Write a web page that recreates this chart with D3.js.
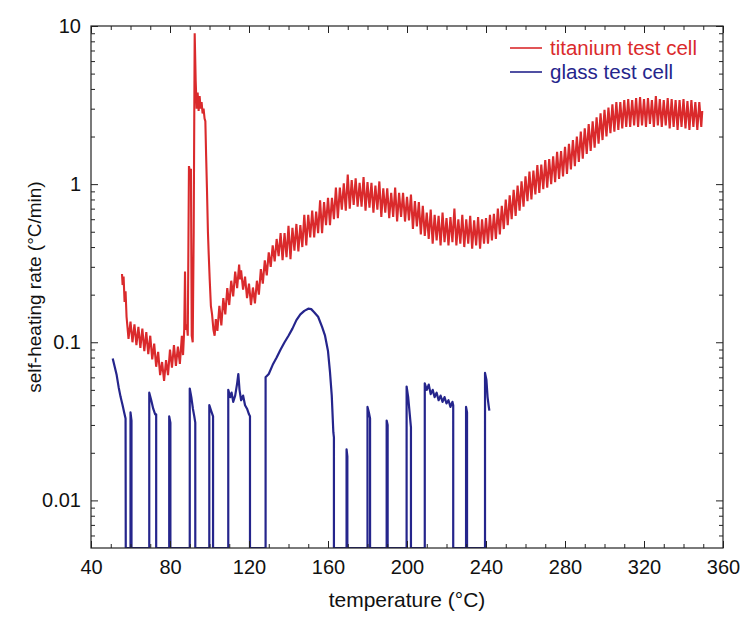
<!DOCTYPE html>
<html><head><meta charset="utf-8">
<script src="https://cdn.jsdelivr.net/npm/d3@7"></script>
<style>
body{margin:0;background:#fff}
svg{display:block}
text{font-family:"Liberation Sans", Arial, Helvetica, sans-serif;fill:#111}
</style>
</head><body>
<svg id="chart" width="750" height="634"></svg>
<script>
// ---- data ----
const xTicks = [40, 80, 120, 160, 200, 240, 280, 320, 360];
const xMinorTicks = [50,60,70,90,100,110,130,140,150,170,180,190,210,220,230,250,260,270,290,300,310,330,340,350];
const yTicks = [0.01, 0.1, 1, 10];
const yTickLabels = ["0.01", "0.1", "1", "10"];
const yMinorTicks = [0.006,0.007,0.008,0.009,0.02,0.03,0.04,0.05,0.06,0.07,0.08,0.09,0.2,0.3,0.4,0.5,0.6,0.7,0.8,0.9,2,3,4,5,6,7,8,9];
const seriesNames = ["titanium test cell", "glass test cell"];
const xTitle = "temperature (°C)";
const yTitle = "self-heating rate (°C/min)";

// titanium test cell: [temperature °C, rate °C/min]
const titanium = [
[55.7,0.27],[56,0.23],[56.5,0.26],[57,0.18],[57.5,0.21],[58,0.145],[59,0.105],[60,0.135],[61,0.1],[62,0.13],
[63,0.096],[64,0.125],[65,0.092],[66,0.122],[67,0.088],[68,0.116],[69,0.084],[70,0.11],[71,0.078],[72,0.098],
[73,0.07],[74,0.087],[75,0.062],[76,0.075],[77,0.057],[78,0.077],[79,0.062],[80,0.09],[81,0.069],[82,0.096],
[83,0.071],[84,0.094],[85,0.073],[86,0.11],[86.6,0.083],[87.2,0.12],[87.6,0.28],[87.9,0.12],[88.5,0.13],[89,0.11],
[89.6,1.3],[90.1,1.2],[90.6,1.25],[91,0.11],[91.5,0.1],[92,0.5],[92.5,9.0],[93,4.5],[93.5,3.0],[94,3.8],
[94.5,2.9],[95,3.6],[95.5,3.0],[96,3.3],[96.5,2.8],[97,3.0],[97.5,2.6],[97.9,2.5],[98.3,1.5],[98.7,0.95],
[99.2,0.5],[99.6,0.36],[100.1,0.25],[100.7,0.17],[101.3,0.15],[102,0.12],[102.6,0.11],[103.2,0.14],[104,0.118],
[105,0.17],[106,0.128],[107,0.19],[108,0.15],[109,0.22],[110,0.172],[111,0.245],[112,0.195],[113,0.28],[114,0.22],
[115,0.31],[115.5,0.25],[116,0.285],[117,0.215],[118,0.26],[119,0.19],[120,0.235],[121,0.172],[122,0.222],[123,0.176],
[124,0.245],[125,0.2],[126,0.29],[127,0.235],[128,0.33],[129,0.265],[130,0.37],[131,0.3],[132,0.41],[133,0.325],
[134,0.45],[135,0.35],[136,0.49],[137,0.33],[138,0.49],[139,0.345],[140,0.545],[141,0.335],[142,0.53],[143,0.38],
[144,0.56],[145,0.375],[146,0.55],[147,0.4],[148,0.64],[149,0.41],[150,0.64],[151,0.46],[152,0.68],[153,0.46],
[154,0.67],[155,0.49],[156,0.79],[157,0.49],[158,0.77],[159,0.55],[160,0.82],[161,0.55],[162,0.82],[163,0.6],
[164,0.95],[165,0.61],[166,0.95],[167,0.69],[168,1.01],[169,0.68],[170,1.15],[171,0.7],[172,1.06],[173,0.74],
[174,1.09],[175,0.72],[176,1.02],[177,0.72],[178,1.11],[179,0.68],[180,1.03],[181,0.71],[182,1.02],[183,0.66],
[184,0.98],[185,0.69],[186,1.04],[187,0.62],[188,0.94],[189,0.66],[190,0.94],[191,0.61],[192,0.88],[193,0.62],
[194,0.95],[195,0.58],[196,0.88],[197,0.62],[198,0.88],[199,0.58],[200,0.83],[201,0.59],[202,0.86],[203,0.52],
[204,0.78],[205,0.54],[206,0.77],[207,0.48],[208,0.73],[209,0.47],[210,0.66],[211,0.45],[212,0.69],[213,0.42],
[214,0.64],[215,0.44],[216,0.63],[217,0.41],[218,0.66],[219,0.43],[220,0.61],[221,0.41],[222,0.62],[223,0.43],
[224,0.7],[225,0.41],[226,0.6],[227,0.42],[228,0.64],[229,0.4],[230,0.6],[231,0.42],[232,0.63],[233,0.39],
[234,0.59],[235,0.41],[236,0.62],[237,0.39],[238,0.6],[239,0.42],[240,0.61],[241,0.42],[242,0.64],[243,0.44],
[244,0.65],[245,0.45],[246,0.7],[247,0.48],[248,0.73],[249,0.52],[250,0.8],[251,0.55],[252,0.85],[253,0.6],
[254,0.92],[255,0.63],[256,0.98],[257,0.68],[258,1.04],[259,0.72],[260,1.12],[261,0.78],[262,1.2],[263,0.8],
[264,1.22],[265,0.86],[266,1.32],[267,0.88],[268,1.33],[269,0.93],[270,1.42],[271,0.95],[272,1.44],[273,1.0],
[274,1.5],[275,1.03],[276,1.6],[277,1.08],[278,1.62],[279,1.12],[280,1.72],[281,1.16],[282,1.8],[283,1.24],
[284,1.9],[285,1.3],[286,2.0],[287,1.38],[288,2.15],[289,1.45],[290,2.25],[291,1.55],[292,2.4],[293,1.62],
[294,2.5],[295,1.7],[296,2.65],[297,1.8],[298,2.8],[299,1.9],[300,2.95],[301,2.0],[302,3.05],[303,2.1],
[304,3.2],[305,2.15],[306,3.3],[307,2.2],[308,3.3],[309,2.25],[310,3.4],[311,2.3],[312,3.45],[313,2.3],
[314,3.4],[315,2.35],[316,3.5],[317,2.3],[318,3.55],[319,2.35],[320,3.45],[321,2.3],[322,3.5],[323,2.4],
[324,3.4],[325,2.3],[326,3.6],[327,2.35],[328,3.45],[329,2.3],[330,3.4],[331,2.35],[332,3.5],[333,2.25],
[334,3.45],[335,2.3],[336,3.4],[337,2.2],[338,3.4],[339,2.3],[340,3.45],[341,2.25],[342,3.35],[343,2.2],
[344,3.4],[345,2.3],[346,3.3],[347,2.2],[348,3.3],[349,2.3],[349.5,2.9]
];

// glass test cell: [temperature °C, rate °C/min]; 0 = below the axis (drops to the bottom)
const glass = [
[51,0.079],[52,0.07],[53,0.062],[54,0.052],[55,0.045],[56,0.04],[56.8,0.036],[57.5,0.033],[57.6,0],
[60,0],[60,0.036],[60.5,0.032],[60.5,0],
[69.5,0],[69.5,0.048],[70.5,0.043],[71.5,0.038],[72.5,0.035],[73,0.035],[73,0],
[79.6,0],[79.6,0.034],[80.2,0.031],[80.2,0],
[90,0],[90,0.051],[90.8,0.045],[91.6,0.038],[92.3,0.034],[92.8,0.031],[92.8,0],
[99.9,0],[99.9,0.04],[100.8,0.037],[101.8,0.034],[101.8,0],
[109.5,0],[109.5,0.05],[110.5,0.045],[111.2,0.048],[112,0.042],[113,0.046],[114,0.055],[114.6,0.063],[115.2,0.05],
[116,0.043],[117,0.046],[118,0.04],[119,0.038],[120,0.035],[120.5,0.034],[120.5,0],
[128.4,0],[128.4,0.06],[130,0.063],[132,0.072],[134,0.08],[136,0.09],[138,0.1],[140,0.11],[142,0.122],[144,0.138],
[146,0.15],[148,0.158],[150,0.163],[151.5,0.162],[153,0.155],[155,0.145],[157,0.125],[158.5,0.11],[160,0.088],
[161,0.065],[161.9,0.046],[162.7,0.027],[163,0.025],[163,0],
[169.4,0],[169.4,0.021],[169.8,0.019],[169.8,0],
[180,0],[180,0.039],[180.7,0.036],[181.3,0.033],[181.3,0],
[189.7,0],[189.7,0.032],[190.2,0.03],[190.2,0],
[199.8,0],[199.8,0.0525],[200.6,0.045],[201.4,0.035],[202,0.029],[202,0],
[209,0],[209,0.055],[210,0.05],[211,0.054],[212,0.047],[213,0.05],[214,0.045],[215,0.048],[216,0.043],[217,0.046],
[218,0.042],[219,0.045],[220,0.041],[221,0.043],[222,0.039],[223,0.042],[223.4,0.04],[223.4,0],
[229.9,0],[229.9,0.039],[230.4,0.036],[230.4,0],
[239.5,0],[239.5,0.064],[240.2,0.058],[240.8,0.045],[241.3,0.04],[241.7,0.037]
];

const colors = ["#da2a2c", "#25258c"];

// ---- layout ----
const L = 91, R = 723, T = 26, B = 548;
const svg = d3.select("#chart");
const x = d3.scaleLinear().domain([40, 360]).range([L, R]);
const y = d3.scaleLog().domain([0.005, 10]).range([B, T]);

svg.append("defs").append("clipPath").attr("id", "clip")
  .append("rect").attr("x", L).attr("y", T).attr("width", R - L).attr("height", B - T);

// ---- data lines ----
const yMin = y.domain()[0];
const line = d3.line().x(d => x(d[0])).y(d => y(Math.max(d[1], yMin)));
const plot = svg.append("g").attr("clip-path", "url(#clip)");
plot.append("path").datum(glass).attr("d", line)
  .attr("fill", "none").attr("stroke", colors[1]).attr("stroke-width", 2.2).attr("stroke-linejoin", "round");
plot.append("path").datum(titanium).attr("d", line)
  .attr("fill", "none").attr("stroke", colors[0]).attr("stroke-width", 2.1).attr("stroke-linejoin", "miter");

// ---- axes ----
const axisColor = "#222";
function styleAxis(g) {
  g.select(".domain").remove();
  g.selectAll("line").attr("stroke", axisColor).attr("stroke-width", 1);
  g.selectAll("text").attr("font-size", 20).attr("fill", "#111")
    .attr("font-family", '"Liberation Sans", Arial, sans-serif');
}
// bottom
svg.append("g").attr("transform", `translate(0,${B})`)
  .call(d3.axisBottom(x).tickValues(xTicks).tickFormat(d3.format("d")).tickSizeInner(-7).tickSizeOuter(0).tickPadding(12))
  .call(styleAxis);
svg.append("g").attr("transform", `translate(0,${B})`)
  .call(d3.axisBottom(x).tickValues(xMinorTicks).tickFormat("").tickSizeInner(-4).tickSizeOuter(0))
  .call(styleAxis);
// top
svg.append("g").attr("transform", `translate(0,${T})`)
  .call(d3.axisTop(x).tickValues(xTicks).tickFormat("").tickSizeInner(-7).tickSizeOuter(0))
  .call(styleAxis);
svg.append("g").attr("transform", `translate(0,${T})`)
  .call(d3.axisTop(x).tickValues(xMinorTicks).tickFormat("").tickSizeInner(-4).tickSizeOuter(0))
  .call(styleAxis);
// left
svg.append("g").attr("transform", `translate(${L},0)`)
  .call(d3.axisLeft(y).tickValues(yTicks).tickFormat((d, i) => yTickLabels[i]).tickSizeInner(-7).tickSizeOuter(0).tickPadding(10))
  .call(styleAxis);
svg.append("g").attr("transform", `translate(${L},0)`)
  .call(d3.axisLeft(y).tickValues(yMinorTicks).tickFormat("").tickSizeInner(-4).tickSizeOuter(0))
  .call(styleAxis);
// right
svg.append("g").attr("transform", `translate(${R},0)`)
  .call(d3.axisRight(y).tickValues(yTicks).tickFormat("").tickSizeInner(-7).tickSizeOuter(0))
  .call(styleAxis);
svg.append("g").attr("transform", `translate(${R},0)`)
  .call(d3.axisRight(y).tickValues(yMinorTicks).tickFormat("").tickSizeInner(-4).tickSizeOuter(0))
  .call(styleAxis);

// frame
svg.append("rect").attr("x", L).attr("y", T).attr("width", R - L).attr("height", B - T)
  .attr("fill", "none").attr("stroke", axisColor).attr("stroke-width", 1.2);

// titles
svg.append("text").attr("x", (L + R) / 2).attr("y", 607).attr("text-anchor", "middle")
  .attr("font-size", 21).text(xTitle);
svg.append("text").attr("transform", `translate(41,${(T + B) / 2}) rotate(-90)`).attr("text-anchor", "middle")
  .attr("font-size", 19).text(yTitle);

// legend
const legend = svg.append("g");
seriesNames.forEach((name, i) => {
  const ly = 48 + i * 24;
  legend.append("line").attr("x1", 510).attr("x2", 542).attr("y1", ly).attr("y2", ly)
    .attr("stroke", colors[i]).attr("stroke-width", 1.6);
  legend.append("text").attr("x", 550).attr("y", ly + 6.5).attr("font-size", 20.5)
    .style("fill", colors[i]).text(name);
});
</script>
</body></html>
